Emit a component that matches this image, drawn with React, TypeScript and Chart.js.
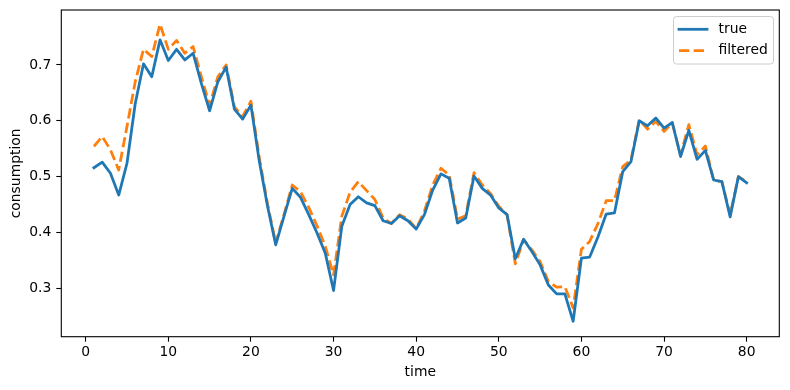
import React, { useEffect, useRef } from "react";
import { Chart, registerables } from "chart.js";

Chart.register(...registerables);

const time: number[] = [
  1, 2, 3, 4, 5, 6, 7, 8, 9, 10, 11, 12, 13, 14, 15, 16, 17, 18, 19, 20,
  21, 22, 23, 24, 25, 26, 27, 28, 29, 30, 31, 32, 33, 34, 35, 36, 37, 38, 39, 40,
  41, 42, 43, 44, 45, 46, 47, 48, 49, 50, 51, 52, 53, 54, 55, 56, 57, 58, 59, 60,
  61, 62, 63, 64, 65, 66, 67, 68, 69, 70, 71, 72, 73, 74, 75, 76, 77, 78, 79, 80,
];

const trueValues: number[] = [
  0.516, 0.526, 0.506, 0.467, 0.524, 0.631, 0.702, 0.679, 0.745, 0.708,
  0.728, 0.709, 0.721, 0.667, 0.618, 0.670, 0.696, 0.621, 0.603, 0.628,
  0.529, 0.448, 0.378, 0.429, 0.479, 0.463, 0.432, 0.399, 0.363, 0.296,
  0.411, 0.450, 0.464, 0.453, 0.448, 0.421, 0.416, 0.430, 0.421, 0.406,
  0.432, 0.476, 0.505, 0.497, 0.417, 0.426, 0.501, 0.479, 0.467, 0.444,
  0.432, 0.353, 0.388, 0.366, 0.342, 0.306, 0.290, 0.290, 0.241, 0.354,
  0.356, 0.392, 0.433, 0.435, 0.509, 0.527, 0.600, 0.591, 0.605, 0.587,
  0.597, 0.536, 0.583, 0.531, 0.547, 0.494, 0.491, 0.428, 0.500, 0.489,
];

const filteredValues: number[] = [
  0.554, 0.572, 0.548, 0.512, 0.590, 0.670, 0.728, 0.715, 0.773, 0.728,
  0.744, 0.721, 0.733, 0.679, 0.628, 0.679, 0.700, 0.625, 0.608, 0.635,
  0.535, 0.452, 0.381, 0.432, 0.485, 0.473, 0.445, 0.412, 0.375, 0.324,
  0.429, 0.472, 0.491, 0.475, 0.459, 0.426, 0.416, 0.432, 0.424, 0.407,
  0.438, 0.485, 0.515, 0.503, 0.424, 0.430, 0.507, 0.485, 0.470, 0.447,
  0.432, 0.344, 0.387, 0.369, 0.348, 0.312, 0.302, 0.303, 0.265, 0.370,
  0.384, 0.416, 0.457, 0.457, 0.518, 0.530, 0.602, 0.585, 0.599, 0.581,
  0.596, 0.539, 0.593, 0.539, 0.555, 0.494, 0.491, 0.432, 0.500, 0.491,
];

const xTicks: number[] = [0, 10, 20, 30, 40, 50, 60, 70, 80];
const yTicks: number[] = [0.3, 0.4, 0.5, 0.6, 0.7];

const seriesNames = ["true", "filtered"];
const seriesColors = ["#1f77b4", "#ff7f0e"];

const FONT = "'DejaVu Sans', sans-serif";
const LW = 2.78;
const DASH = [10.3, 4.4];

const framePlugin = {
  id: "frameAndLegend",
  afterDraw(chart: any) {
    const { ctx, chartArea } = chart;
    const { left, top, right, bottom } = chartArea;
    ctx.save();
    ctx.strokeStyle = "#000";
    ctx.lineWidth = 1.1;
    ctx.setLineDash([]);
    ctx.strokeRect(left, top, right - left, bottom - top);

    const bx = 673.5, by = 16.5, bw = 100, bh = 47.5;
    ctx.fillStyle = "rgba(255,255,255,0.8)";
    ctx.strokeStyle = "#cccccc";
    ctx.lineWidth = 1;
    ctx.beginPath();
    (ctx as any).roundRect(bx, by, bw, bh, 3);
    ctx.fill();
    ctx.stroke();

    const rows = [29.3, 50.7];
    ctx.font = `13.9px ${FONT}`;
    ctx.textBaseline = "middle";
    ctx.textAlign = "left";
    rows.forEach((y, i) => {
      ctx.strokeStyle = seriesColors[i];
      ctx.lineWidth = LW;
      ctx.setLineDash(i === 1 ? DASH : []);
      ctx.lineCap = i === 1 ? "butt" : "square";
      ctx.beginPath();
      ctx.moveTo(679, y);
      ctx.lineTo(707, y);
      ctx.stroke();
      ctx.setLineDash([]);
      ctx.fillStyle = "#000";
      ctx.fillText(seriesNames[i], 718.5, y);
    });
    ctx.restore();
  },
};

export default function App() {
  const ref = useRef<HTMLCanvasElement | null>(null);

  useEffect(() => {
    const canvas = ref.current;
    if (!canvas) return;
    const chart = new Chart(canvas, {
      type: "line",
      data: {
        datasets: [
          {
            label: seriesNames[0],
            data: time.map((t, i) => ({ x: t, y: trueValues[i] })),
            borderColor: seriesColors[0],
            borderWidth: LW,
            pointRadius: 0,
            tension: 0,
            borderCapStyle: "square",
            borderJoinStyle: "round",
            fill: false,
          },
          {
            label: seriesNames[1],
            data: time.map((t, i) => ({ x: t, y: filteredValues[i] })),
            borderColor: seriesColors[1],
            borderWidth: LW,
            borderDash: DASH,
            pointRadius: 0,
            tension: 0,
            borderCapStyle: "butt",
            borderJoinStyle: "round",
            fill: false,
          },
        ],
      },
      options: {
        responsive: false,
        animation: false,
        devicePixelRatio: 1,
        layout: { padding: { left: 0, top: 10, right: 10.7, bottom: 0 } },
        plugins: {
          legend: { display: false },
          tooltip: { enabled: false },
        },
        scales: {
          x: {
            type: "linear",
            min: -2.95,
            max: 83.95,
            afterBuildTicks: (scale: any) => {
              scale.ticks = xTicks.map((v) => ({ value: v }));
            },
            afterFit: (scale: any) => {
              scale.height = 53.3;
              scale.paddingLeft = 0;
              scale.paddingRight = 0;
            },
            ticks: {
              color: "#000",
              font: { family: FONT, size: 13.9 },
              padding: 2,
              maxRotation: 0,
              autoSkip: false,
              callback: (v: any) => String(v),
            },
            grid: {
              drawOnChartArea: false,
              drawTicks: true,
              tickLength: 5,
              tickColor: "#000",
              tickWidth: 1.1,
            },
            border: { display: false },
            title: {
              display: true,
              text: "time",
              color: "#000",
              font: { family: FONT, size: 13.9 },
              padding: { top: 0, bottom: 9.6 },
            },
          },
          y: {
            type: "linear",
            min: 0.2134,
            max: 0.7984,
            afterBuildTicks: (scale: any) => {
              scale.ticks = yTicks.map((v) => ({ value: v }));
            },
            afterFit: (scale: any) => {
              scale.width = 61.3;
              scale.paddingTop = 0;
              scale.paddingBottom = 0;
            },
            ticks: {
              color: "#000",
              font: { family: FONT, size: 13.9 },
              padding: 5,
              autoSkip: false,
              callback: (v: any) => Number(v).toFixed(1),
            },
            grid: {
              drawOnChartArea: false,
              drawTicks: true,
              tickLength: 5,
              tickColor: "#000",
              tickWidth: 1.1,
            },
            border: { display: false },
            title: {
              display: true,
              text: "consumption",
              color: "#000",
              font: { family: FONT, size: 13.9 },
              padding: { top: 8.3, bottom: 0 },
            },
          },
        },
      },
      plugins: [framePlugin],
    } as any);
    return () => chart.destroy();
  }, []);

  return (
    <div style={{ position: "fixed", left: 0, top: 0, width: 790, height: 390, background: "#fff" }}>
      <canvas ref={ref} width={790} height={390} style={{ width: 790, height: 390, display: "block" }} />
    </div>
  );
}
